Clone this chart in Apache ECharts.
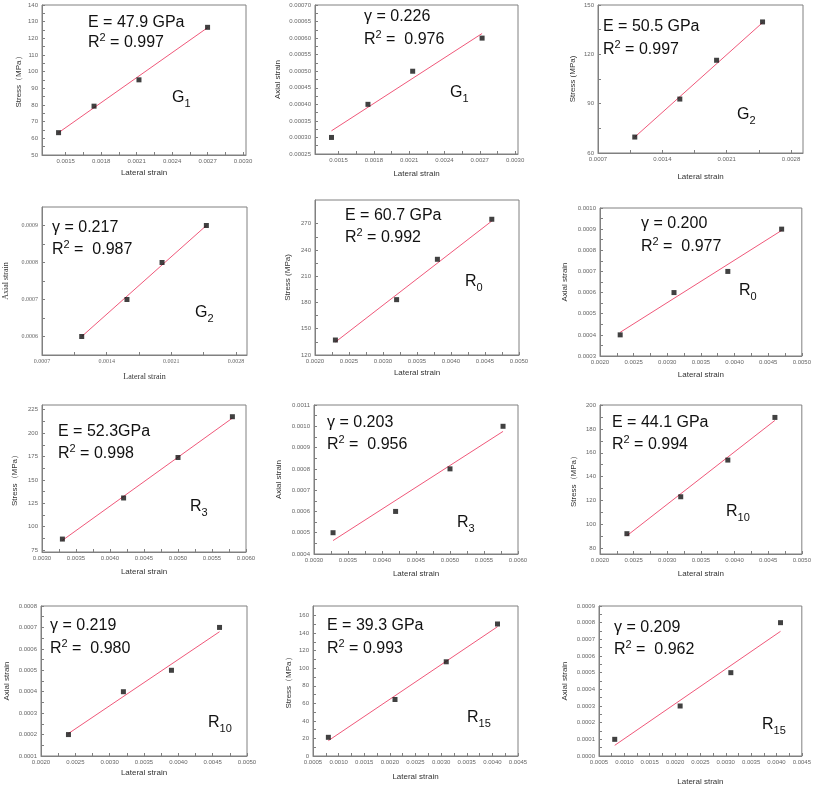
<!DOCTYPE html>
<html><head><meta charset="utf-8">
<script src="https://cdn.jsdelivr.net/npm/echarts@6/dist/echarts.min.js"></script>
<style>html,body{margin:0;padding:0;background:#fff}#c{width:814px;height:788px}</style>
</head><body><div id="c"></div>
<script>
// ---------- DATA ----------
// Panel 1: G1 stress
const p1X = [0.00144, 0.00174, 0.00212, 0.0027];
const p1Y = [63.4, 79.3, 95.1, 126.6];
const p1FitX = [0.00144, 0.0027];
const p1FitY = [63.4, 126.4];
const p1XRange = [0.0013, 0.003025];
const p1YRange = [50, 140];
const p1XTicks = ['0.0015','0.0018','0.0021','0.0024','0.0027','0.0030'];
const p1YTicks = ['50','60','70','80','90','100','110','120','130','140'];
// Panel 2: G1 axial
const p2X = [0.00144, 0.00175, 0.00213, 0.00272];
const p2Y = [0.0003, 0.0004, 0.0005, 0.0006];
const p2FitX = [0.00144, 0.00272];
const p2FitY = [0.00032, 0.000614];
const p2XRange = [0.0013, 0.003025];
const p2YRange = [0.00025, 0.0007];
const p2XTicks = ['0.0015','0.0018','0.0021','0.0024','0.0027','0.0030'];
const p2YTicks = ['0.00025','0.00030','0.00035','0.00040','0.00045','0.00050','0.00055','0.00060','0.00065','0.00070'];
// Panel 3: G2 stress
const p3X = [0.0011, 0.00159, 0.00199, 0.00249];
const p3Y = [69.7, 92.8, 116.4, 139.7];
const p3FitX = [0.0011, 0.00249];
const p3FitY = [69.7, 139.3];
const p3XRange = [0.0007, 0.00293];
const p3YRange = [60, 150];
const p3XTicks = ['0.0007','0.0014','0.0021','0.0028'];
const p3YTicks = ['60','90','120','150'];
// Panel 4: G2 axial
const p4X = [0.00113, 0.00162, 0.0020, 0.00248];
const p4Y = [0.0006, 0.0007, 0.0008, 0.0009];
const p4FitX = [0.00113, 0.00248];
const p4FitY = [0.0006, 0.0009];
const p4XRange = [0.0007, 0.00292];
const p4YRange = [0.00055, 0.00095];
const p4XTicks = ['0.0007','0.0014','0.0021','0.0028'];
const p4YTicks = ['0.0006','0.0007','0.0008','0.0009'];
// Panel 5: R0 stress
const p5X = [0.0023, 0.0032, 0.0038, 0.0046];
const p5Y = [137.1, 183.2, 229.3, 275];
const p5FitX = [0.0023, 0.0046];
const p5FitY = [134.8, 273];
const p5XRange = [0.0020, 0.0050];
const p5YRange = [120, 297];
const p5XTicks = ['0.0020','0.0025','0.0030','0.0035','0.0040','0.0045','0.0050'];
const p5YTicks = ['120','150','180','210','240','270'];
// Panel 6: R0 axial
const p6X = [0.0023, 0.0031, 0.0039, 0.0047];
const p6Y = [0.0004, 0.0006, 0.0007, 0.0009];
const p6FitX = [0.0023, 0.0047];
const p6FitY = [0.000412, 0.000894];
const p6XRange = [0.0020, 0.0050];
const p6YRange = [0.0003, 0.0010];
const p6XTicks = ['0.0020','0.0025','0.0030','0.0035','0.0040','0.0045','0.0050'];
const p6YTicks = ['0.0003','0.0004','0.0005','0.0006','0.0007','0.0008','0.0009','0.0010'];
// Panel 7: R3 stress
const p7X = [0.0033, 0.0042, 0.0050, 0.0058];
const p7Y = [86.8, 130.7, 173.9, 217.5];
const p7FitX = [0.0033, 0.0058];
const p7FitY = [85.4, 216];
const p7XRange = [0.0030, 0.0060];
const p7YRange = [73, 230];
const p7XTicks = ['0.0030','0.0035','0.0040','0.0045','0.0050','0.0055','0.0060'];
const p7YTicks = ['75','100','125','150','175','200','225'];
// Panel 8: R3 axial
const p8X = [0.00328, 0.0042, 0.0050, 0.00578];
const p8Y = [0.0005, 0.0006, 0.0008, 0.0010];
const p8FitX = [0.00328, 0.00578];
const p8FitY = [0.000463, 0.000976];
const p8XRange = [0.0030, 0.0060];
const p8YRange = [0.0004, 0.0011];
const p8XTicks = ['0.0030','0.0035','0.0040','0.0045','0.0050','0.0055','0.0060'];
const p8YTicks = ['0.0004','0.0005','0.0006','0.0007','0.0008','0.0009','0.0010','0.0011'];
// Panel 9: R10 stress
const p9X = [0.0024, 0.0032, 0.0039, 0.0046];
const p9Y = [92.3, 123.2, 153.9, 189.6];
const p9FitX = [0.0024, 0.0046];
const p9FitY = [90.6, 187.1];
const p9XRange = [0.0020, 0.0050];
const p9YRange = [75.3, 200];
const p9XTicks = ['0.0020','0.0025','0.0030','0.0035','0.0040','0.0045','0.0050'];
const p9YTicks = ['80','100','120','140','160','180','200'];
// Panel 10: R10 axial
const p10X = [0.0024, 0.0032, 0.0039, 0.0046];
const p10Y = [0.0002, 0.0004, 0.0005, 0.0007];
const p10FitX = [0.0024, 0.0046];
const p10FitY = [0.000205, 0.00068];
const p10XRange = [0.0020, 0.0050];
const p10YRange = [0.0001, 0.0008];
const p10XTicks = ['0.0020','0.0025','0.0030','0.0035','0.0040','0.0045','0.0050'];
const p10YTicks = ['0.0001','0.0002','0.0003','0.0004','0.0005','0.0006','0.0007','0.0008'];
// Panel 11: R15 stress
const p11X = [0.0008, 0.0021, 0.0031, 0.0041];
const p11Y = [21.3, 64.4, 107.4, 150.5];
const p11FitX = [0.0008, 0.0041];
const p11FitY = [17.5, 147.4];
const p11XRange = [0.0005, 0.0045];
const p11YRange = [0, 171];
const p11XTicks = ['0.0005','0.0010','0.0015','0.0020','0.0025','0.0030','0.0035','0.0040','0.0045'];
const p11YTicks = ['0','20','40','60','80','100','120','140','160'];
// Panel 12: R15 axial
const p12X = [0.00081, 0.0021, 0.0031, 0.00408];
const p12Y = [0.0001, 0.0003, 0.0005, 0.0008];
const p12FitX = [0.00081, 0.00408];
const p12FitY = [0.000064, 0.000748];
const p12XRange = [0.0005, 0.0045];
const p12YRange = [0, 0.0009];
const p12XTicks = ['0.0005','0.0010','0.0015','0.0020','0.0025','0.0030','0.0035','0.0040','0.0045'];
const p12YTicks = ['0.0000','0.0001','0.0002','0.0003','0.0004','0.0005','0.0006','0.0007','0.0008','0.0009'];

// annotation texts
const p1Text = ['E = 47.9 GPa', '0.997', 'G', '1'];
const p2Text = ['γ = 0.226', ' 0.976', 'G', '1'];
const p3Text = ['E = 50.5 GPa', '0.997', 'G', '2'];
const p4Text = ['γ = 0.217', ' 0.987', 'G', '2'];
const p5Text = ['E = 60.7 GPa', '0.992', 'R', '0'];
const p6Text = ['γ = 0.200', ' 0.977', 'R', '0'];
const p7Text = ['E = 52.3GPa', '0.998', 'R', '3'];
const p8Text = ['γ = 0.203', ' 0.956', 'R', '3'];
const p9Text = ['E = 44.1 GPa', '0.994', 'R', '10'];
const p10Text = ['γ = 0.219', ' 0.980', 'R', '10'];
const p11Text = ['E = 39.3 GPa', '0.993', 'R', '15'];
const p12Text = ['γ = 0.209', ' 0.962', 'R', '15'];

const STRESS = 'Stress（MPa）', STRESS2 = 'Stress (MPa)', AXIAL = 'Axial strain', LATERAL = 'Lateral strain';

// ---------- LAYOUT (styling only) ----------
const panels = [
  {x:p1X,y:p1Y,fx:p1FitX,fy:p1FitY,xr:p1XRange,yr:p1YRange,xt:p1XTicks,yt:p1YTicks,t:p1Text,yn:STRESS,
   g:[42,5,204,150], xg:14, yg:19, a:[88,23,43], lab:[172,98]},
  {x:p2X,y:p2Y,fx:p2FitX,fy:p2FitY,xr:p2XRange,yr:p2YRange,xt:p2XTicks,yt:p2YTicks,t:p2Text,yn:AXIAL,
   g:[315,5,203,149], xg:16, yg:33, a:[364,17,40], lab:[450,93]},
  {x:p3X,y:p3Y,fx:p3FitX,fy:p3FitY,xr:p3XRange,yr:p3YRange,xt:p3XTicks,yt:p3YTicks,t:p3Text,yn:STRESS2,
   g:[598,5,205,148], xg:20, yg:21, a:[603,27,50], lab:[737,115]},
  {x:p4X,y:p4Y,fx:p4FitX,fy:p4FitY,xr:p4XRange,yr:p4YRange,xt:p4XTicks,yt:p4YTicks,t:p4Text,yn:AXIAL,
   g:[42,207,205,148], xg:18, yg:32, a:[52,228,250], lab:[195,313], serif:true},
  {x:p5X,y:p5Y,fx:p5FitX,fy:p5FitY,xr:p5XRange,yr:p5YRange,xt:p5XTicks,yt:p5YTicks,t:p5Text,yn:STRESS2,
   g:[315,200,204,155], xg:14, yg:23, a:[345,216,238], lab:[465,282]},
  {x:p6X,y:p6Y,fx:p6FitX,fy:p6FitY,xr:p6XRange,yr:p6YRange,xt:p6XTicks,yt:p6YTicks,t:p6Text,yn:AXIAL,
   g:[600,208,203,148], xg:15, yg:31, a:[641,224,247], lab:[739,291]},
  {x:p7X,y:p7Y,fx:p7FitX,fy:p7FitY,xr:p7XRange,yr:p7YRange,xt:p7XTicks,yt:p7YTicks,t:p7Text,yn:STRESS,
   g:[42,405,204,147], xg:16, yg:23, a:[58,432,454], lab:[190,507]},
  {x:p8X,y:p8Y,fx:p8FitX,fy:p8FitY,xr:p8XRange,yr:p8YRange,xt:p8XTicks,yt:p8YTicks,t:p8Text,yn:AXIAL,
   g:[314,405,204,149], xg:16, yg:31, a:[327,423,445], lab:[457,523]},
  {x:p9X,y:p9Y,fx:p9FitX,fy:p9FitY,xr:p9XRange,yr:p9YRange,xt:p9XTicks,yt:p9YTicks,t:p9Text,yn:STRESS,
   g:[600,405,203,149], xg:16, yg:22, a:[612,423,445], lab:[726,512]},
  {x:p10X,y:p10Y,fx:p10FitX,fy:p10FitY,xr:p10XRange,yr:p10YRange,xt:p10XTicks,yt:p10YTicks,t:p10Text,yn:AXIAL,
   g:[41,606,206,150], xg:13, yg:30, a:[50,626,649], lab:[208,723]},
  {x:p11X,y:p11Y,fx:p11FitX,fy:p11FitY,xr:p11XRange,yr:p11YRange,xt:p11XTicks,yt:p11YTicks,t:p11Text,yn:STRESS,
   g:[313,606,205,150], xg:17, yg:20, a:[327,626,649], lab:[467,718]},
  {x:p12X,y:p12Y,fx:p12FitX,fy:p12FitY,xr:p12XRange,yr:p12YRange,xt:p12XTicks,yt:p12YTicks,t:p12Text,yn:AXIAL,
   g:[599,606,204,150], xg:22, yg:30, a:[614,628,650], lab:[762,725]}
];

const FRAME = '#808080', LABEL = '#666', SANS = 'Liberation Sans, Arial, sans-serif', SERIF = 'Liberation Serif, Times New Roman, serif';
function withMid(ticks){
  const v = ticks.map(Number), out = [];
  for (let i=0;i<v.length;i++){ out.push(v[i]); if(i<v.length-1) out.push((v[i]+v[i+1])/2); }
  return out;
}
function fmt(ticks){
  return function(val){
    for (const s of ticks){ if (Math.abs(Number(s)-val) < 1e-9 * Math.max(1,Math.abs(val))) return s; }
    return '';
  };
}
const grids=[], xAxes=[], yAxes=[], series=[], graphics=[];
panels.forEach((p,i)=>{
  const font = p.serif ? SERIF : SANS;
  grids.push({left:p.g[0], top:p.g[1], width:p.g[2], height:p.g[3], show:true, borderColor:FRAME, borderWidth:1, backgroundColor:'transparent'});
  xAxes.push({type:'value', gridIndex:i, min:p.xr[0], max:p.xr[1],
    axisLine:{show:true, onZero:false, lineStyle:{color:FRAME,width:1}},
    axisTick:{show:true, inside:true, length:3, customValues:withMid(p.xt), lineStyle:{color:FRAME}},
    axisLabel:{customValues:p.xt.map(Number), formatter:fmt(p.xt), fontSize:6, color:LABEL, margin:3, fontFamily:font, showMinLabel:true, showMaxLabel:true, hideOverlap:false},
    splitLine:{show:false},
    name:LATERAL, nameLocation:'middle', nameGap:p.xg, nameTextStyle:{fontSize:8, color:'#333', fontFamily:font}
  });
  yAxes.push({type:'value', gridIndex:i, min:p.yr[0], max:p.yr[1],
    axisLine:{show:true, onZero:false, lineStyle:{color:FRAME,width:1}},
    axisTick:{show:true, inside:true, length:3, customValues:withMid(p.yt), lineStyle:{color:FRAME}},
    axisLabel:{customValues:p.yt.map(Number), formatter:fmt(p.yt), fontSize:6, color:LABEL, margin:4, fontFamily:font, showMinLabel:true, showMaxLabel:true, hideOverlap:false},
    splitLine:{show:false},
    name:p.yn, nameLocation:'middle', nameGap:p.yg, nameRotate:90, nameTextStyle:{fontSize:8, color:'#333', fontFamily:font}
  });
  series.push({type:'line', xAxisIndex:i, yAxisIndex:i, data:p.fx.map((v,k)=>[v,p.fy[k]]),
    showSymbol:false, silent:true, lineStyle:{color:'#f0587a', width:1}, z:2});
  series.push({type:'scatter', xAxisIndex:i, yAxisIndex:i, data:p.x.map((v,k)=>[v,p.y[k]]),
    symbol:'rect', symbolSize:5, itemStyle:{color:'#111'}, z:3});
  const rich = {
    n:{fontSize:16, fontFamily:SANS, fill:'#111', color:'#111'},
    sup:{fontSize:11, fontFamily:SANS, fill:'#111', color:'#111', padding:[0,0,11,0]},
    sub:{fontSize:11, fontFamily:SANS, fill:'#111', color:'#111', padding:[12,0,0,0]}
  };
  graphics.push({type:'text', x:p.a[0], y:p.a[1], style:{text:'{n|'+p.t[0]+'}', rich:rich, verticalAlign:'middle', align:'left'}});
  graphics.push({type:'text', x:p.a[0], y:p.a[2], style:{text:'{n|R}{sup|2}{n| = '+p.t[1]+'}', rich:rich, verticalAlign:'middle', align:'left'}});
  graphics.push({type:'text', x:p.lab[0], y:p.lab[1], style:{text:'{n|'+p.t[2]+'}{sub|'+p.t[3]+'}', rich:rich, verticalAlign:'middle', align:'left'}});
});

const chart = echarts.init(document.getElementById('c'), null, {renderer:'canvas'});
chart.setOption({
  animation:false,
  backgroundColor:'#fff',
  grid:grids, xAxis:xAxes, yAxis:yAxes, series:series, graphic:graphics
});
</script></body></html>
